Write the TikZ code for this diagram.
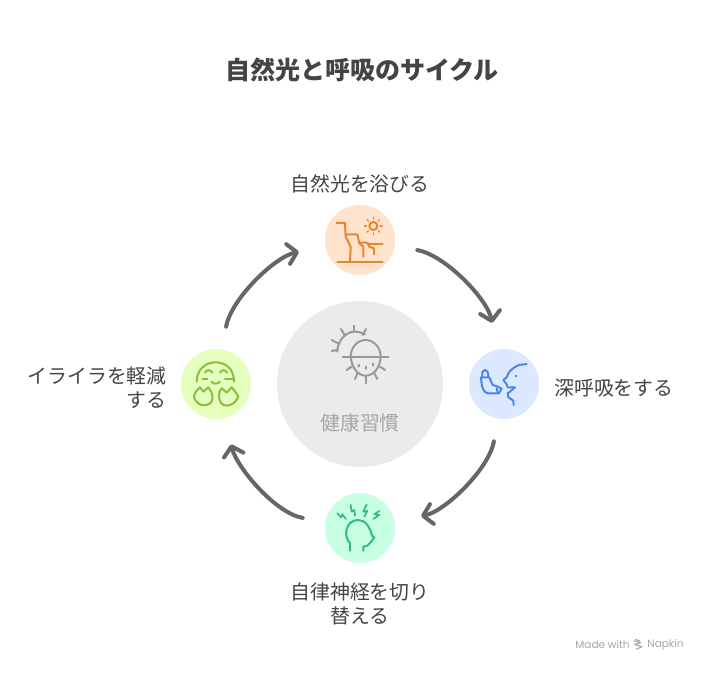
\documentclass[tikz,border=0pt]{standalone}
\usepackage{fontspec}
\setmainfont{Noto Sans CJK JP}
\newfontfamily\madefont{Poppins}
\usetikzlibrary{arrows.meta,positioning}
\definecolor{txtgray}{HTML}{444444}
\definecolor{arrowgray}{HTML}{666666}
\definecolor{hubfill}{HTML}{EBEBEB}
\definecolor{sunfill}{HTML}{FFE3CC}
\definecolor{breathfill}{HTML}{DBE8FF}
\definecolor{brainfill}{HTML}{C8FFE3}
\definecolor{calmfill}{HTML}{E4FFBE}
\definecolor{sunline}{HTML}{E8862E}
\definecolor{breathline}{HTML}{4A86E8}
\definecolor{brainline}{HTML}{2EBD7E}
\definecolor{calmline}{HTML}{8DBB3A}
\tikzset{
	stage/.style = {circle, inner sep=0pt, minimum size=70pt},
	lbl/.style = {inner sep=0pt, text=txtgray, align=center,
		font=\fontsize{19.85}{24}\selectfont},
	cyc/.style = {draw=arrowgray, line width=4pt, line cap=round, looseness=0.9,
		-{Straight Barb[length=9pt,width=20pt,round,line width=4pt]},
		shorten <=23pt, shorten >=27pt},
	ink/.style = {line width=2pt, line cap=round, line join=round},
	icon/.style 2 args = {shift={(#1,#2)}, xscale=1/3, yscale=-1/3}
}
\begin{document}
\begin{tikzpicture}[x=1pt,y=1pt]
\useasboundingbox (0,0) rectangle (708,672);
\fill[white] (0,0) rectangle (708,672);
\node [lbl, font=\fontsize{25}{30}\selectfont\bfseries] (title) at (362,602) {自然光と呼吸のサイクル};
% hub and stages
\node [circle, inner sep=0pt, minimum size=166pt, fill=hubfill] (hub) at (360,288) {};
\node [stage, fill=sunfill] (sun) at (360,432) {};
\node [stage, fill=breathfill] (breath) at (504,288) {};
\node [stage, fill=brainfill] (brain) at (360,144) {};
\node [stage, fill=calmfill] (calm) at (216,288) {};
% labels
\node [lbl, above=11.5pt of sun] (sunlbl) {自然光を浴びる};
\node [lbl, right=15pt of breath, yshift=-4pt] (breathlbl) {深呼吸をする};
\node [lbl, below=19pt of brain] (brainlbl) {自律神経を切り\\替える};
\node [lbl, left=14pt of calm, align=right, yshift=-4pt] (calmlbl) {イライラを軽減\\する};
\node [lbl, text=black!35] (hublbl) at (360,249) {健康習慣};
% cycle
\draw [cyc] (sun) to[out=-10,in=101] (breath);
\draw [cyc] (breath) to[out=-100,in=11] (brain);
\draw [cyc] (brain) to[out=170,in=-76] (calm);
\draw [cyc] (calm) to[out=80,in=191] (sun);
% sun over cliff
\begin{scope}[icon={310}{477}, ink, sunline]
\draw (80,84) -- (105,84) -- (107,125) -- (122,155) -- (120,202);
\draw (107,118) -- (142,118) -- (148,145) -- (160,155) -- (160,185);
\draw (148,143) -- (172,143) -- (178,155) -- (192,160) -- (192,178);
\draw (178,147) -- (218,147);
\draw (82,202) -- (218,202);
\draw (190,93) circle[radius=12];
\foreach \a in {0,45,...,315}
	\draw[line width=1.5pt] (190,93) ++(\a:21) -- ++(\a:5);
\end{scope}
% inhaler and face
\begin{scope}[icon={455}{332}, ink, breathline]
\draw (78,112) .. controls (80,135) and (82,160) .. (100,160) -- (132,160) -- (140,146) -- (128,140) -- (113,135) -- (103,112) -- cycle;
\draw (82,110) .. controls (80,95) and (85,90) .. (90,90) .. controls (97,90) and (100,97) .. (100,110);
\draw (125,145) -- (128,158);
\draw (215,72) -- (192,75) .. controls (170,85) and (160,95) .. (155,112) -- (145,120) -- (155,133) -- (158,142) -- (180,142) -- (165,155) -- (158,160) -- (160,172) -- (175,182) -- (176,195);
\fill (183,108) circle[radius=4];
\end{scope}
% head and bolts
\begin{scope}[icon={310}{187}, ink, brainline]
\draw (120,197) -- (120,175) .. controls (100,155) and (105,105) .. (145,105) .. controls (165,105) and (180,125) .. (186,152) -- (193,157) -- (182,172) -- (172,182) -- (160,185) -- (160,197);
\draw[line width=1.7pt] (82,85) -- (93,97) -- (97,88) -- (108,102);
\draw[line width=1.7pt] (122,60) -- (125,80) -- (133,75) -- (135,92);
\draw[line width=1.7pt] (170,58) -- (160,80) -- (172,78) -- (163,95);
\draw[line width=1.7pt] (208,78) -- (193,88) -- (208,90) -- (190,102);
\end{scope}
% smiling face with hands
\begin{scope}[icon={170}{332}, ink, calmline]
\draw (80,125) .. controls (80,90) and (105,67) .. (137,67) .. controls (170,67) and (192,90) .. (192,125);
\draw (105,98) .. controls (110,88) and (120,88) .. (127,98);
\draw (150,98) .. controls (155,88) and (165,88) .. (172,98);
\draw (98,117) -- (112,117);
\draw (165,117) -- (188,117);
\draw (125,125) .. controls (130,133) and (143,133) .. (150,125);
\draw (72,170) .. controls (75,155) and (83,148) .. (90,142) -- (100,155) -- (115,142) .. controls (125,155) and (132,170) .. (125,185) .. controls (118,197) and (95,200) .. (85,190) .. controls (78,185) and (72,178) .. (72,170) -- cycle;
\draw (147,165) .. controls (147,155) and (150,150) .. (155,145) -- (170,158) -- (185,142) .. controls (192,150) and (200,160) .. (205,170) .. controls (200,180) and (195,187) .. (190,190) .. controls (180,197) and (160,202) .. (152,187) .. controls (148,180) and (147,172) .. (147,165) -- cycle;
\end{scope}
% sun and hat in the hub
\begin{scope}[icon={320}{357}, ink, black!40]
\draw (52,110) .. controls (52,75) and (80,50) .. (103,50) .. controls (115,50) and (125,53) .. (135,58);
\draw (35,108) -- (52,105);
\draw (35,75) -- (55,85);
\draw (63,42) -- (75,62);
\draw (103,32) -- (103,50);
\draw (138,42) -- (128,60);
\draw (92,125) .. controls (92,98) and (112,75) .. (137,75) .. controls (162,75) and (182,98) .. (182,125);
\draw (68,125) -- (205,125);
\draw (92,125) .. controls (95,160) and (115,182) .. (137,182) .. controls (160,182) and (180,160) .. (182,125);
\draw (80,165) -- (95,155);
\draw (105,192) -- (112,175);
\draw (137,205) -- (137,183);
\draw (172,192) -- (163,175);
\draw (195,165) -- (180,155);
\draw (118,150) -- (115,155);
\draw (137,155) -- (137,162);
\draw (158,145) -- (158,152);
\end{scope}
% footer
\node [inner sep=0pt, text=black!35, font=\madefont\fontsize{10.5}{12}\selectfont] (madelbl) at (602.5,27) {Made with};
\node [inner sep=0pt, text=black!35, font=\madefont\fontsize{10.5}{12}\selectfont] (napkinlbl) at (665.5,27) {Napkin};
\begin{scope}[icon={560}{42}, black!35, line width=1.1pt, line join=round]
\draw (222,32) -- (242,38) -- (224,44) -- (246,50) -- (228,58);
\draw (226,28) -- (240,33);
\end{scope}
\end{tikzpicture}
\end{document}
